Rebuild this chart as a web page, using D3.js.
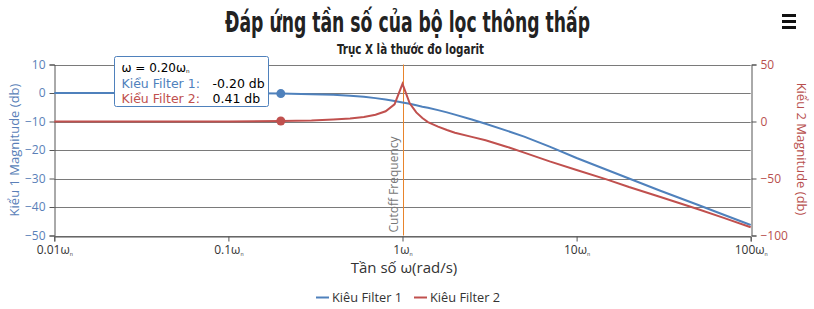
<!DOCTYPE html>
<html>
<head>
<meta charset="utf-8">
<script src="https://cdn.jsdelivr.net/npm/d3@7"></script>
<style>
  body { margin: 0; background: #fff; }
  svg { display: block; }
</style>
</head>
<body>
<svg id="chart" width="814" height="309"></svg>
<script>
    "use strict";
    // tan so (x = omega / omega_n)
    var freqs = [0.01, 0.02, 0.05, 0.1, 0.2, 0.3, 0.4, 0.5, 0.6, 0.7, 0.8, 0.9, 1, 1.1, 1.2, 1.3, 1.4, 1.6, 1.8, 2, 2.5, 3, 4, 5, 7, 10, 15, 20, 30, 50, 70, 100];
    var filter1 = [0, 0, -0.01, -0.05, -0.2, -0.4, -0.65, -1.0, -1.35, -1.8, -2.3, -2.8, -3.3, -3.8, -4.3, -4.8, -5.2, -6.0, -6.8, -7.6, -9.3, -10.8, -13.3, -15.3, -18.8, -22.8, -27, -30, -34.2, -39.3, -42.7, -46.3];
    var filter2 = [0, 0, 0.02, 0.1, 0.41, 0.9, 1.7, 2.6, 4, 6, 9, 15, 33, 16, 8, 3, -0.5, -4.5, -7.5, -9.8, -13.5, -16.5, -22.3, -27.3, -35, -42.5, -51, -57.5, -66, -77, -84.5, -92.8];
    var seriesNames = ["Kiêu Filter 1", "Kiêu Filter 2"];
    var xTicks = [0.01, 0.1, 1, 10, 100];
    var leftTicks = [10, 0, -10, -20, -30, -40, -50];
    var rightTicks = [50, 0, -50, -100];
    var hoverIndex = 4; // omega = 0.20

    (function () {
        var blue = "#4F81BC", red = "#C0504E";
        var svg = d3.select("#chart");
        var pLeft = 54.3, pRight = 750.7, pTop = 64.5, pBottom = 235.5;

        var x = d3.scaleLog().domain([0.01, 100]).range([pLeft, pRight]);
        var yL = d3.scaleLinear().domain([-50, 10]).range([pBottom, pTop]);
        var yR = d3.scaleLinear().domain([-100, 50]).range([pBottom, pTop]);

        var condFont = "'DejaVu Sans Condensed', 'Liberation Sans Narrow', sans-serif";
        // tieu de
        svg.append("text")
            .attr("x", 225).attr("y", 32)
            .attr("textLength", 365).attr("lengthAdjust", "spacingAndGlyphs")
            .style("font-family", condFont)
            .style("font-weight", "bold").style("font-size", "28px").style("fill", "#222")
            .text("Đáp ứng tần số của bộ lọc thông thấp");
        svg.append("text")
            .attr("x", 337).attr("y", 54)
            .attr("textLength", 147).attr("lengthAdjust", "spacingAndGlyphs")
            .style("font-family", condFont)
            .style("font-weight", "bold").style("font-size", "14px").style("fill", "#222")
            .text("Trục X là thước đo logarit");

        // menu icon
        svg.append("g").selectAll("rect").data([14, 20, 26]).enter().append("rect")
            .attr("x", 782).attr("y", function (d) { return d; })
            .attr("width", 14).attr("height", 3).attr("fill", "#111");

        // luoi
        svg.append("g").selectAll("line").data(leftTicks).enter().append("line")
            .attr("x1", pLeft).attr("x2", pRight)
            .attr("y1", function (d) { return Math.round(yL(d)) + 0.5; })
            .attr("y2", function (d) { return Math.round(yL(d)) + 0.5; })
            .attr("stroke", "#7a7a7a").attr("stroke-width", 1);

        var axisFont = "'Open Sans', 'DejaVu Sans', sans-serif";

        // truc trai
        var gl = svg.append("g").attr("transform", "translate(" + (Math.round(pLeft) + 0.5) + ",0)")
            .call(d3.axisLeft(yL).tickValues(leftTicks).tickSize(5).tickPadding(4));
        gl.select(".domain").attr("stroke", "#555");
        gl.selectAll(".tick line").attr("stroke", "#555");
        gl.selectAll("text").style("font-family", axisFont).style("font-size", "12px").attr("fill", "#5a7fb8");

        // truc phai
        var gr = svg.append("g").attr("transform", "translate(" + (Math.round(pRight) + 0.5) + ",0)")
            .call(d3.axisRight(yR).tickValues(rightTicks).tickSize(5).tickPadding(4));
        gr.select(".domain").attr("stroke", "#555");
        gr.selectAll(".tick line").attr("stroke", "#555");
        gr.selectAll("text").style("font-family", axisFont).style("font-size", "12px").attr("fill", "#b8504e");

        // truc x
        var gx = svg.append("g").attr("transform", "translate(0," + (Math.round(pBottom) + 0.5) + ")")
            .call(d3.axisBottom(x).tickValues(xTicks).tickSize(5).tickPadding(3).tickFormat(""));
        gx.select(".domain").attr("stroke", "#555");
        gx.selectAll(".tick line").attr("stroke", "#555");
        gx.selectAll(".tick").append("text")
            .attr("y", 17).attr("text-anchor", "middle").attr("fill", "#333")
            .style("font-family", axisFont).style("font-size", "12px")
            .each(function (d) {
                var t = d3.select(this);
                t.append("tspan").text(d + "ω");
                t.append("tspan").attr("dy", 1).style("font-size", "8px").text("ₙ");
            });

        // tieu de truc
        svg.append("text")
            .attr("x", 404).attr("y", 273).attr("text-anchor", "middle")
            .style("font-family", axisFont).style("font-size", "15px").attr("fill", "#333")
            .text("Tần số ω(rad/s)");
        svg.append("text")
            .attr("transform", "translate(19,150) rotate(-90)").attr("text-anchor", "middle")
            .style("font-family", axisFont).style("font-size", "13px").attr("fill", "#5a7fb8")
            .text("Kiểu 1 Magnitude  (db)");
        svg.append("text")
            .attr("transform", "translate(797,149) rotate(90)").attr("text-anchor", "middle")
            .style("font-family", axisFont).style("font-size", "13px").attr("fill", "#b8504e")
            .text("Kiểu 2 Magnitude  (db)");

        // duong cat tan so
        svg.append("line")
            .attr("x1", Math.round(x(1)) + 0.5).attr("x2", Math.round(x(1)) + 0.5)
            .attr("y1", pTop).attr("y2", pBottom)
            .attr("stroke", "#E8842C").attr("stroke-width", 1);
        svg.append("text")
            .attr("transform", "translate(" + (x(1) - 5) + "," + (pBottom - 3) + ") rotate(-90)")
            .style("font-family", axisFont).style("font-size", "12px").attr("fill", "#777")
            .text("Cutoff Frequency");

        // duong
        var lineL = d3.line().x(function (d, i) { return x(freqs[i]); }).y(function (d) { return yL(d); });
        var lineR = d3.line().x(function (d, i) { return x(freqs[i]); }).y(function (d) { return yR(d); });
        svg.append("path").datum(filter1).attr("d", lineL)
            .attr("fill", "none").attr("stroke", blue).attr("stroke-width", 2);
        svg.append("path").datum(filter2).attr("d", lineR)
            .attr("fill", "none").attr("stroke", red).attr("stroke-width", 2);

        // diem hover
        svg.append("circle").attr("cx", x(freqs[hoverIndex])).attr("cy", yL(filter1[hoverIndex]))
            .attr("r", 4.5).attr("fill", blue);
        svg.append("circle").attr("cx", x(freqs[hoverIndex])).attr("cy", yR(filter2[hoverIndex]))
            .attr("r", 4.5).attr("fill", red);

        // tooltip
        var tipFont = "'DejaVu Sans', Verdana, sans-serif";
        var tip = svg.append("g").attr("transform", "translate(114.5,56.5)");
        tip.append("rect").attr("width", 154).attr("height", 50).attr("rx", 2)
            .attr("fill", "#fff").attr("stroke", blue).attr("stroke-width", 1);
        var t0 = tip.append("text").attr("x", 7).attr("y", 15)
            .style("font-family", tipFont).style("font-size", "12px").attr("fill", "#000");
        t0.append("tspan").text("ω = " + freqs[hoverIndex].toFixed(2) + "ω");
        t0.append("tspan").attr("dy", 1).style("font-size", "9px").text("ₙ");
        var rows = [
            { name: "Kiểu Filter 1:", val: filter1[hoverIndex].toFixed(2) + " db", color: blue },
            { name: "Kiểu Filter 2:", val: filter2[hoverIndex].toFixed(2) + " db", color: red }
        ];
        rows.forEach(function (r, i) {
            tip.append("text").attr("x", 7).attr("y", 31 + i * 15)
                .style("font-family", tipFont).style("font-size", "12.5px").attr("fill", r.color)
                .text(r.name);
            tip.append("text").attr("x", 98).attr("y", 31 + i * 15)
                .style("font-family", tipFont).style("font-size", "12.5px").attr("fill", "#000")
                .text(r.val);
        });

        // chu thich
        var legend = svg.append("g");
        var lx = [316, 414];
        seriesNames.forEach(function (n, i) {
            legend.append("line").attr("x1", lx[i]).attr("x2", lx[i] + 13)
                .attr("y1", 297.5).attr("y2", 297.5)
                .attr("stroke", i == 0 ? blue : red).attr("stroke-width", 2);
            legend.append("text").attr("x", lx[i] + 16).attr("y", 302)
                .attr("textLength", 70).attr("lengthAdjust", "spacingAndGlyphs")
                .style("font-family", axisFont).style("font-size", "12.5px").attr("fill", "#333")
                .text(n);
        });
    })();
</script>
</body>
</html>
